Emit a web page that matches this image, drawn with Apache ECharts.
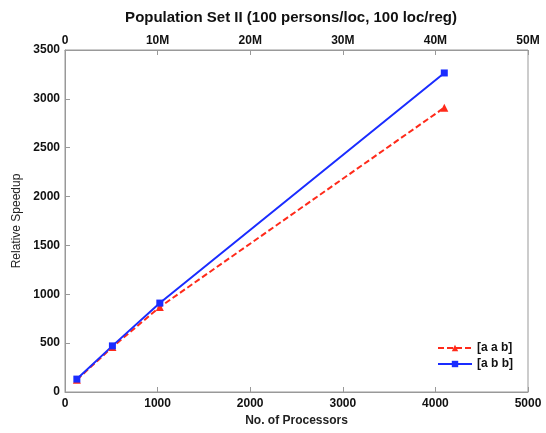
<!DOCTYPE html>
<html>
<head>
<meta charset="utf-8">
<script src="https://cdn.jsdelivr.net/npm/echarts@6/dist/echarts.min.js"></script>
<style>
html, body { margin: 0; padding: 0; background: #fff; }
#chart { width: 546px; height: 433px; }
</style>
</head>
<body>
<div id="chart"></div>
<script>
// processors on the x axis
var processors = [128, 512, 1024, 4096];
// relative speedup per configuration
var aab = [125, 460, 870, 2910];
var abb = [132, 472, 910, 3265];
var xTicks = [0, 1000, 2000, 3000, 4000, 5000];
var topTicks = [0, 10, 20, 30, 40, 50];

var chart = echarts.init(document.getElementById("chart"));
var font = "Liberation Sans, Arial, sans-serif";
var axisGray = "#999";

function pairs(xs, ys) {
    return xs.map(function (x, i) { return [x, ys[i]]; });
}
function plain(v) { return String(v); }

chart.setOption({
    animation: false,
    title: {
        text: "Population Set II (100 persons/loc, 100 loc/reg)",
        left: 286,
        textAlign: "center",
        top: 5,
        textStyle: { fontFamily: font, fontSize: 15, fontWeight: "bold", color: "#111" }
    },
    grid: {
        left: 65, right: 18, top: 50, bottom: 41,
        show: true, borderColor: axisGray, borderWidth: 1
    },
    legend: {
        right: 28, bottom: 58,
        orient: "vertical",
        itemWidth: 34, itemHeight: 8, itemGap: 4,
        textStyle: { fontFamily: font, fontSize: 12, fontWeight: "bold", color: "#111" },
        data: ["[a a b]", "[a b b]"]
    },
    xAxis: [
        {
            type: "value", position: "bottom",
            min: xTicks[0], max: xTicks[xTicks.length - 1], interval: 1000,
            name: "No. of Processors", nameLocation: "middle", nameGap: 17,
            nameTextStyle: { fontFamily: font, fontSize: 12, fontWeight: "bold", color: "#222" },
            axisLine: { lineStyle: { color: axisGray } },
            axisTick: { inside: true, length: 5, lineStyle: { color: axisGray } },
            axisLabel: { fontFamily: font, fontSize: 12, fontWeight: "bold", color: "#111", margin: 6, formatter: plain },
            splitLine: { show: false }
        },
        {
            type: "value", position: "top",
            min: topTicks[0], max: topTicks[topTicks.length - 1], interval: 10,
            axisLine: { lineStyle: { color: axisGray } },
            axisTick: { inside: true, length: 5, lineStyle: { color: axisGray } },
            axisLabel: {
                fontFamily: font, fontSize: 12, fontWeight: "bold", color: "#111", margin: 3,
                formatter: function (v) { return v === 0 ? "0" : v + "M"; }
            },
            splitLine: { show: false }
        }
    ],
    yAxis: {
        type: "value", min: 0, max: 3500, interval: 500,
        name: "Relative Speedup", nameLocation: "middle", nameGap: 40,
        nameTextStyle: { fontFamily: font, fontSize: 12, color: "#222" },
        axisLine: { show: true, lineStyle: { color: axisGray } },
        axisTick: { inside: true, length: 5, lineStyle: { color: axisGray } },
        axisLabel: { fontFamily: font, fontSize: 12, fontWeight: "bold", color: "#111", margin: 5, formatter: plain },
        splitLine: { show: false }
    },
    series: [
        {
            name: "[a a b]", type: "line", xAxisIndex: 0,
            data: pairs(processors, aab),
            symbol: "triangle", symbolSize: 8,
            itemStyle: { color: "#ff2a1a" },
            lineStyle: { color: "#ff2a1a", width: 2, type: [6, 3] }
        },
        {
            name: "[a b b]", type: "line", xAxisIndex: 0,
            data: pairs(processors, abb),
            symbol: "rect", symbolSize: 7,
            itemStyle: { color: "#1a2cff" },
            lineStyle: { color: "#1a2cff", width: 2 }
        }
    ]
});
</script>
</body>
</html>
